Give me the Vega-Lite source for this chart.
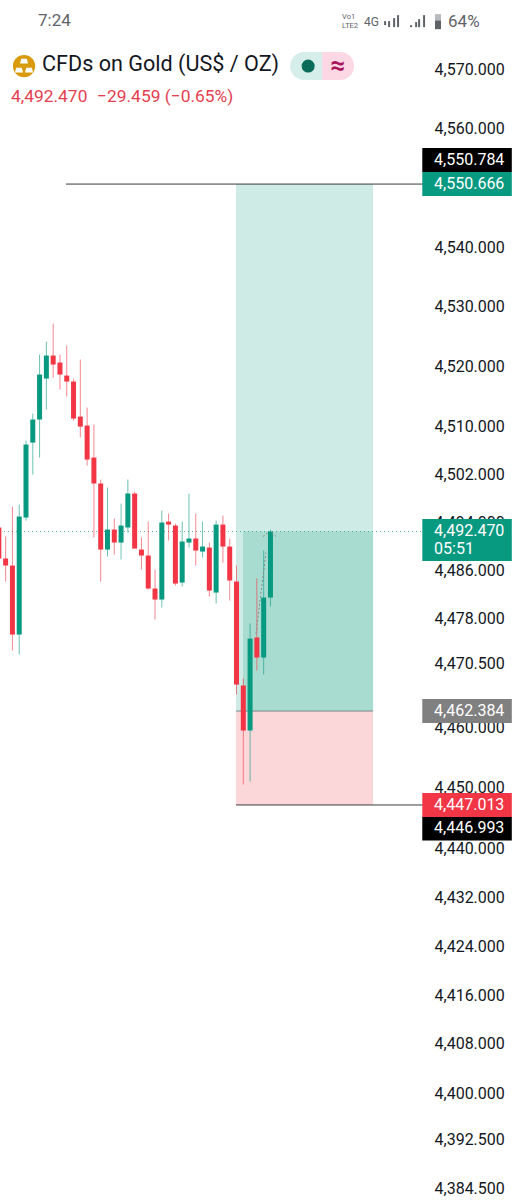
{"$schema":"https://vega.github.io/schema/vega-lite/v6.json","width":519,"height":1200,"padding":0,"autosize":{"type":"none"},"background":"white","config":{"view":{"stroke":null}},
"datasets":{
"candles":[
{"bar":0,"open":4493.14,"high":4494.63,"low":4486.81,"close":4487.98,"side":"down"},
{"bar":1,"open":4487.98,"high":4491.64,"low":4484.16,"close":4486.81,"side":"down"},
{"bar":2,"open":4486.81,"high":4496.63,"low":4472.71,"close":4475.36,"side":"down"},
{"bar":3,"open":4475.36,"high":4496.96,"low":4472.05,"close":4494.97,"side":"up"},
{"bar":4,"open":4494.80,"high":4507.64,"low":4494.30,"close":4506.97,"side":"up"},
{"bar":5,"open":4507.30,"high":4512.14,"low":4501.96,"close":4511.15,"side":"up"},
{"bar":6,"open":4511.15,"high":4522.02,"low":4504.80,"close":4518.67,"side":"up"},
{"bar":7,"open":4518.00,"high":4524.19,"low":4512.82,"close":4521.85,"side":"up"},
{"bar":8,"open":4521.85,"high":4527.21,"low":4518.16,"close":4520.35,"side":"down"},
{"bar":9,"open":4520.68,"high":4522.02,"low":4516.16,"close":4518.67,"side":"down"},
{"bar":10,"open":4518.50,"high":4523.53,"low":4514.99,"close":4517.50,"side":"down"},
{"bar":11,"open":4517.50,"high":4518.00,"low":4510.98,"close":4511.31,"side":"down"},
{"bar":12,"open":4511.64,"high":4521.18,"low":4508.14,"close":4509.97,"side":"down"},
{"bar":13,"open":4510.14,"high":4513.15,"low":4503.46,"close":4504.47,"side":"down"},
{"bar":14,"open":4504.80,"high":4510.31,"low":4491.47,"close":4500.47,"side":"down"},
{"bar":15,"open":4500.47,"high":4501.13,"low":4484.16,"close":4489.47,"side":"down"},
{"bar":16,"open":4489.47,"high":4499.80,"low":4488.31,"close":4492.80,"side":"up"},
{"bar":17,"open":4492.80,"high":4494.63,"low":4488.64,"close":4490.64,"side":"down"},
{"bar":18,"open":4490.64,"high":4497.13,"low":4487.81,"close":4493.47,"side":"up"},
{"bar":19,"open":4493.14,"high":4501.13,"low":4492.30,"close":4498.79,"side":"up"},
{"bar":20,"open":4498.79,"high":4499.13,"low":4489.64,"close":4489.64,"side":"down"},
{"bar":21,"open":4489.47,"high":4491.47,"low":4486.15,"close":4488.48,"side":"down"},
{"bar":22,"open":4488.48,"high":4494.13,"low":4482.83,"close":4483.00,"side":"down"},
{"bar":23,"open":4483.00,"high":4486.15,"low":4477.85,"close":4481.17,"side":"down"},
{"bar":24,"open":4481.17,"high":4495.96,"low":4479.85,"close":4493.97,"side":"up"},
{"bar":25,"open":4494.13,"high":4495.47,"low":4490.97,"close":4493.63,"side":"down"},
{"bar":26,"open":4493.47,"high":4493.80,"low":4483.50,"close":4483.82,"side":"down"},
{"bar":27,"open":4483.99,"high":4494.13,"low":4483.33,"close":4490.81,"side":"up"},
{"bar":28,"open":4490.64,"high":4498.79,"low":4489.81,"close":4491.31,"side":"up"},
{"bar":29,"open":4491.31,"high":4495.47,"low":4486.81,"close":4489.31,"side":"down"},
{"bar":30,"open":4489.14,"high":4494.13,"low":4488.14,"close":4489.97,"side":"up"},
{"bar":31,"open":4489.81,"high":4490.64,"low":4481.66,"close":4482.66,"side":"down"},
{"bar":32,"open":4482.33,"high":4494.30,"low":4480.51,"close":4493.63,"side":"up"},
{"bar":33,"open":4493.63,"high":4495.13,"low":4487.31,"close":4489.97,"side":"down"},
{"bar":34,"open":4489.97,"high":4491.31,"low":4481.00,"close":4484.33,"side":"down"},
{"bar":35,"open":4484.16,"high":4486.81,"low":4465.43,"close":4467.08,"side":"down"},
{"bar":36,"open":4466.92,"high":4468.08,"low":4450.57,"close":4459.48,"side":"down"},
{"bar":37,"open":4459.48,"high":4477.19,"low":4451.06,"close":4474.69,"side":"up"},
{"bar":38,"open":4474.86,"high":4484.66,"low":4469.40,"close":4471.55,"side":"down"},
{"bar":39,"open":4471.55,"high":4489.31,"low":4468.74,"close":4481.50,"side":"up"},
{"bar":40,"open":4481.50,"high":4492.80,"low":4480.01,"close":4492.47,"side":"up"}
]},
"encoding":{
"x":{"field":"bar","type":"quantitative","axis":null,"scale":{"type":"linear","domain":[0.171,76.6],"nice":false,"zero":false,"padding":0}},
"y":{"field":"price","type":"quantitative","title":null,"scale":{"type":"log","domain":[4382.6,4581.8],"nice":false,"zero":false},
"axis":{"orient":"right","offset":-85,"domain":false,"ticks":false,"grid":false,"labelPadding":0,"labelAlign":"left","labelFont":"Roboto","labelFontSize":16,"labelColor":"#131722","labelOverlap":false,"labelBound":false,"labelFlush":false,"format":",.3f","title":null,"values":[4570,4560,4550,4540,4530,4520,4510,4502,4494,4486,4478,4470.5,4460,4450,4440,4432,4424,4416,4408,4400,4392.5,4384.5]}}},
"layer":[
{"data":{"values":[{"bar":34.93,"bar2":55.11,"price":4550.666,"price2":4462.7}]},"mark":{"type":"rect","fill":"#CEEBE6"},"encoding":{"x2":{"field":"bar2"},"y2":{"field":"price2"}}},
{"data":{"values":[{"bar":35.96,"bar2":55.11,"price":4492.47,"price2":4462.7}]},"mark":{"type":"rect","fill":"#A8DCD1"},"encoding":{"x2":{"field":"bar2"},"y2":{"field":"price2"}}},
{"data":{"values":[{"bar":34.93,"bar2":55.11,"price":4462.7,"price2":4447.2}]},"mark":{"type":"rect","fill":"#FCD7DA"},"encoding":{"x2":{"field":"bar2"},"y2":{"field":"price2"}}},
{"data":{"values":[{"bar":0.171,"bar2":62.47,"price":4492.47}]},"mark":{"type":"rule","stroke":"#089981","strokeWidth":1,"strokeDash":[1,3],"opacity":0.7},"encoding":{"x2":{"field":"bar2"}}},
{"data":{"values":[{"bar":9.89,"bar2":62.47,"price":4550.666},{"bar":34.93,"bar2":62.47,"price":4447.2}]},"mark":{"type":"rule","stroke":"#3c3c3c","strokeWidth":1},"encoding":{"x2":{"field":"bar2"}}},
{"data":{"values":[{"bar":34.93,"bar2":55.11,"price":4462.7}]},"mark":{"type":"rule","stroke":"#7d8a88","strokeWidth":1},"encoding":{"x2":{"field":"bar2"}}},
{"data":{"name":"candles"},"mark":{"type":"rule","strokeWidth":1,"opacity":0.6,"clip":true},
"encoding":{"y":{"field":"low","type":"quantitative","title":null,"scale":{"type":"log","domain":[4382.6,4581.8],"nice":false,"zero":false}},"y2":{"field":"high"},"color":{"field":"side","type":"nominal","legend":null,"scale":{"domain":["up","down"],"range":["#089981","#F23645"]}}}},
{"data":{"name":"candles"},"mark":{"type":"bar","size":5,"clip":true},
"encoding":{"y":{"field":"open","type":"quantitative","title":null,"scale":{"type":"log","domain":[4382.6,4581.8],"nice":false,"zero":false}},"y2":{"field":"close"},"color":{"field":"side","type":"nominal","legend":null,"scale":{"domain":["up","down"],"range":["#089981","#F23645"]}}}},
{"data":{"values":[
{"trace":"a","bar":37.87,"price":4475.53},{"trace":"a","bar":39.34,"price":4488.98},
{"trace":"b","bar":38.9,"price":4491.64},{"trace":"b","bar":39.64,"price":4492.3},
{"trace":"c","bar":40.2,"price":4492.3},{"trace":"c","bar":40.82,"price":4491.64}]},
"mark":{"type":"line","stroke":"#8a8a8a","strokeWidth":1,"strokeDash":[2,2]},"encoding":{"detail":{"field":"trace"}}},
{"data":{"values":[{"bar":68.95,"price":4554.71}]},"mark":{"type":"point","filled":true,"fill":"#000000","opacity":1,"shape":"M-3.73,-1H3.73V1H-3.73Z","size":576}},
{"data":{"values":[{"bar":68.95,"price":4550.666}]},"mark":{"type":"point","filled":true,"fill":"#089981","opacity":1,"shape":"M-3.73,-1H3.73V1H-3.73Z","size":576}},
{"data":{"values":[{"bar":68.95,"price":4491.06}]},"mark":{"type":"point","filled":true,"fill":"#089981","opacity":1,"shape":"M-2.13,-1H2.13V1H-2.13Z","size":1764}},
{"data":{"values":[{"bar":68.95,"price":4462.7}]},"mark":{"type":"point","filled":true,"fill":"#808080","opacity":1,"shape":"M-3.73,-1H3.73V1H-3.73Z","size":576}},
{"data":{"values":[{"bar":68.95,"price":4443.33}]},"mark":{"type":"point","filled":true,"fill":"#000000","opacity":1,"shape":"M-3.73,-1H3.73V1H-3.73Z","size":576}},
{"data":{"values":[{"bar":68.95,"price":4447.2}]},"mark":{"type":"point","filled":true,"fill":"#F23645","opacity":1,"shape":"M-3.73,-1H3.73V1H-3.73Z","size":576}},
{"data":{"values":[
{"bar":64.09,"price":4554.71,"label":"4,550.784"},{"bar":64.09,"price":4550.666,"label":"4,550.666"},
{"bar":64.09,"price":4492.6,"label":"4,492.470"},{"bar":64.09,"price":4489.56,"label":"05:51"},
{"bar":64.09,"price":4462.7,"label":"4,462.384"},{"bar":64.09,"price":4447.2,"label":"4,447.013"},{"bar":64.09,"price":4443.33,"label":"4,446.993"}]},
"mark":{"type":"text","font":"Roboto","fontSize":16,"fill":"#ffffff","align":"left","baseline":"middle"},"encoding":{"text":{"field":"label"}}},
{"data":{"values":[{"bar":6.36,"price":4570.77,"label":"CFDs on Gold (US$ / OZ)"}]},"mark":{"type":"text","font":"Roboto","fontSize":21.6,"fill":"#131722","align":"left","baseline":"middle"},"encoding":{"text":{"field":"label"}}},
{"data":{"values":[{"bar":1.79,"price":4565.35,"label":"4,492.470"},{"bar":14.46,"price":4565.35,"label":"−29.459 (−0.65%)"}]},"mark":{"type":"text","font":"Roboto","fontSize":17.4,"fill":"#E5404F","align":"left","baseline":"middle"},"encoding":{"text":{"field":"label"}}},
{"data":{"values":[{"bar":5.77,"price":4578.22,"label":"7:24"},{"bar":66.15,"price":4578.05,"label":"64%"}]},"mark":{"type":"text","font":"Roboto","fontSize":17,"fill":"#5f6368","align":"left","baseline":"middle"},"encoding":{"text":{"field":"label"}}},
{"data":{"values":[{"bar":53.79,"price":4578.05,"label":"4G"}]},"mark":{"type":"text","font":"Roboto","fontSize":12,"fill":"#5f6368","align":"left","baseline":"middle"},"encoding":{"text":{"field":"label"}}},
{"data":{"values":[{"bar":50.55,"price":4578.9,"label":"Vo1"},{"bar":50.55,"price":4577.37,"label":"LTE2"}]},"mark":{"type":"text","font":"Roboto","fontSize":7.5,"fill":"#5f6368","align":"left","baseline":"middle"},"encoding":{"text":{"field":"label"}}},
{"data":{"values":[
{"bar":56.88,"price":4577.54,"price2":4578.22},{"bar":57.47,"price":4577.2,"price2":4578.22},{"bar":58.21,"price":4577.2,"price2":4578.73},{"bar":58.79,"price":4577.2,"price2":4579.23},
{"bar":60.71,"price":4577.2,"price2":4577.54},{"bar":61.45,"price":4577.2,"price2":4578.05},{"bar":61.89,"price":4577.2,"price2":4578.56},{"bar":62.62,"price":4577.2,"price2":4579.23}]},
"mark":{"type":"rule","stroke":"#5f6368","strokeWidth":2},"encoding":{"y2":{"field":"price2"}}},
{"data":{"values":[{"bar":64.67,"price":4576.86,"price2":4579.4}]},"mark":{"type":"rule","stroke":"#b8babd","strokeWidth":6},"encoding":{"y2":{"field":"price2"}}},
{"data":{"values":[{"bar":64.67,"price":4576.86,"price2":4578.3}]},"mark":{"type":"rule","stroke":"#5f6368","strokeWidth":6},"encoding":{"y2":{"field":"price2"}}},
{"data":{"values":[{"bar":3.71,"price":4570.6}]},"mark":{"type":"point","filled":true,"fill":"#D99A0B","opacity":1,"shape":"circle","size":500}},
{"data":{"values":[{"bar":3.71,"price":4571.44},{"bar":2.97,"price":4569.92},{"bar":4.44,"price":4569.92}]},"mark":{"type":"point","filled":true,"fill":"#ffffff","opacity":1,"shape":"M-0.7,-0.6H0.7L1,0.6H-1Z","size":64}},
{"data":{"values":[{"bar":45.25,"price":4570.6}]},"mark":{"type":"point","filled":true,"fill":"#D6EEEA","opacity":1,"shape":"M1.143,-1L-0.143,-1C-0.695,-1 -1.143,-0.552 -1.143,0C-1.143,0.552 -0.695,1 -0.143,1L1.143,1Z","size":784}},
{"data":{"values":[{"bar":49.96,"price":4570.6}]},"mark":{"type":"point","filled":true,"fill":"#FBD8E3","opacity":1,"shape":"M-1.143,-1L0.143,-1C0.695,-1 1.143,-0.552 1.143,0C1.143,0.552 0.695,1 0.143,1L-1.143,1Z","size":784}},
{"data":{"values":[{"bar":45.55,"price":4570.6}]},"mark":{"type":"point","filled":true,"fill":"#0B6B59","opacity":1,"shape":"circle","size":170}},
{"data":{"values":[{"bar":49.96,"price":4570.6,"label":"≈"}]},"mark":{"type":"text","font":"Roboto","fontSize":26,"fontWeight":"bold","fill":"#A8155A","align":"center","baseline":"middle"},"encoding":{"text":{"field":"label"}}}
]}
